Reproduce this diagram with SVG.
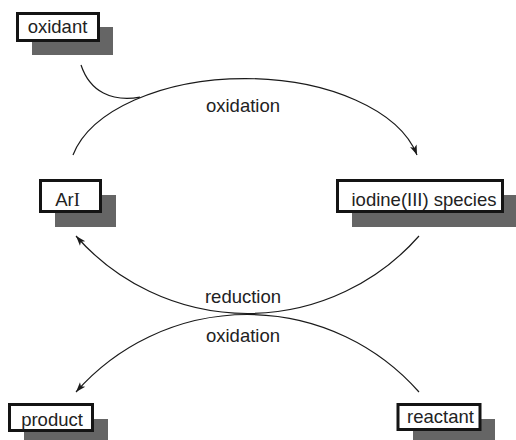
<svg xmlns="http://www.w3.org/2000/svg" width="516" height="440" viewBox="0 0 516 440">
<defs>
<marker id="arr" markerUnits="userSpaceOnUse" markerWidth="12" markerHeight="8" refX="10" refY="3.5" orient="auto" overflow="visible">
<path d="M0,0 L10,3.5 L0,7 L2.5,3.5 z" fill="#1a1a1a"/>
</marker>
<style>
.box{fill:#fff;stroke:#141414;stroke-width:3}
.sh{fill:#656565}
.t{font-family:"Liberation Sans",Arial,sans-serif;font-size:18.5px;fill:#222;text-anchor:middle}
.c{fill:none;stroke:#1a1a1a;stroke-width:1.2}
</style>
</defs>
<rect width="516" height="440" fill="#fff"/>
<g id="connectors">
<path class="c" d="M81,65 C90,92 112,102 140,97.2"/>
<path class="c" d="M73,155 A176 97 0 0 1 417,155" marker-end="url(#arr)"/>
<path class="c" d="M419,236 A228.5 228.5 0 0 1 76,236" marker-end="url(#arr)"/>
<path class="c" d="M419,392 A228.5 228.5 0 0 0 76,392" marker-end="url(#arr)"/>
<text class="t" x="243" y="111.7">oxidation</text>
<text class="t" x="243" y="302.7">reduction</text>
<text class="t" x="243" y="341.7">oxidation</text>
</g>
<g id="oxidant">
<rect class="sh" x="32" y="27" width="81" height="28"/>
<rect class="box" x="17.5" y="13.5" width="81" height="27"/>
<text class="t" x="57.5" y="33.3">oxidant</text>
</g>
<g id="ArI">
<rect class="sh" x="55" y="195" width="61" height="32"/>
<rect class="box" x="40.5" y="180.5" width="60" height="31"/>
<text class="t" x="67.5" y="206">Ar<tspan font-family="Liberation Serif, serif">I</tspan></text>
</g>
<g id="iodine">
<rect class="sh" x="352" y="195" width="164" height="32"/>
<rect class="box" x="337.5" y="180.5" width="165" height="31"/>
<text class="t" x="424" y="206">iodine(III) species</text>
</g>
<g id="product">
<rect class="sh" x="24" y="419" width="84" height="21"/>
<rect class="box" x="9.5" y="404.5" width="83" height="26"/>
<text class="t" x="52" y="426">product</text>
</g>
<g id="reactant">
<rect class="sh" x="413" y="419" width="82" height="21"/>
<rect class="box" x="398" y="404.5" width="82" height="25"/>
<text class="t" x="440.5" y="422.7">reactant</text>
</g>
</svg>
